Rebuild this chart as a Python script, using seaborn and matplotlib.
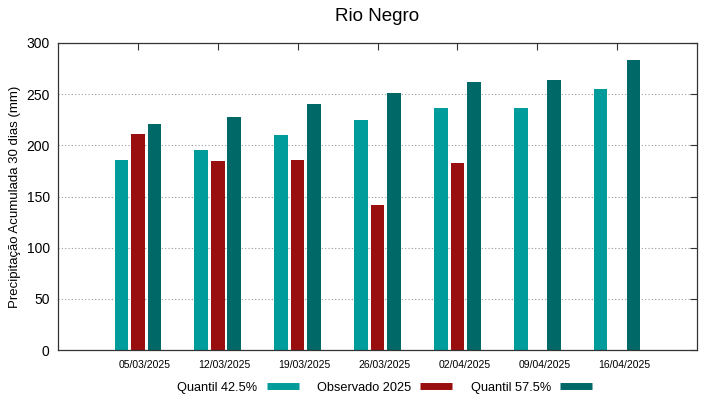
import matplotlib
matplotlib.use("Agg")
import matplotlib.pyplot as plt
import matplotlib.transforms as mtransforms
from matplotlib.lines import Line2D
import numpy as np
import pandas as pd
import seaborn as sns

# ── data ───────────────────────────────────────────────────────────────────────
dates = ["05/03/2025", "12/03/2025", "19/03/2025", "26/03/2025",
         "02/04/2025", "09/04/2025", "16/04/2025"]
q425 = [186, 195.5, 210, 225, 236, 236.5, 255.5]
observed = [211.5, 184.5, 185.5, 141.5, 182.5, np.nan, np.nan]
q575 = [221, 228, 240, 251, 261.5, 264, 283.5]

series_names = ["Quantil 42.5%", "Observado 2025", "Quantil 57.5%"]
colors = ["#009B9B", "#990E0E", "#006866"]

df = pd.DataFrame({"date": dates, series_names[0]: q425,
                   series_names[1]: observed, series_names[2]: q575})
long = df.melt(id_vars="date", var_name="serie", value_name="mm")

sns.set_theme(style="white")
plt.rcParams["font.family"] = ["Liberation Sans", "DejaVu Sans"]
plt.rcParams.update({"text.color": "black", "axes.labelcolor": "black",
                     "xtick.color": "black", "ytick.color": "black"})

fig = plt.figure(figsize=(7.19, 3.99), dpi=100)
ax = fig.add_axes([58 / 719, 49 / 399, 639 / 719, 307 / 399])

sns.barplot(data=long, x="date", y="mm", hue="serie", hue_order=series_names,
            order=dates, palette=colors, width=0.62, gap=0.18, saturation=1,
            errorbar=None, ax=ax, legend=False, linewidth=0)

ax.set_xlim(-1, 7)
ax.set_ylim(0, 300)
ax.set_yticks(range(0, 301, 50))
ax.set_xlabel("")
ax.set_ylabel("Precipitação Acumulada 30 dias (mm)", fontsize=9.5)
ax.set_title("Rio Negro", fontsize=13.5, pad=16)

ax.yaxis.grid(True, linestyle=(0, (1, 2)), color="#999999", linewidth=0.8)
ax.set_axisbelow(True)
for s in ax.spines.values():
    s.set_color("#333333")
    s.set_linewidth(0.9)

ax.tick_params(axis="both", direction="in", length=5, width=0.8,
               top=True, right=True, color="#333333")
ax.tick_params(axis="y", labelsize=10, pad=6)
ax.tick_params(axis="x", labelsize=7.5, pad=7)

offset = mtransforms.ScaledTranslation(7 / 100, 0, fig.dpi_scale_trans)
for lbl in ax.get_xticklabels():
    lbl.set_transform(lbl.get_transform() + offset)

handles = [Line2D([0], [0], color=c, linewidth=5, solid_capstyle="butt")
           for c in colors]
fig.legend(handles, series_names, loc="center", bbox_to_anchor=(0.535, 0.028),
           ncol=3, frameon=False, markerfirst=False, fontsize=9.2,
           handlelength=2.5, columnspacing=1.45, handletextpad=0.7)

fig.savefig("out.png", dpi=100)
